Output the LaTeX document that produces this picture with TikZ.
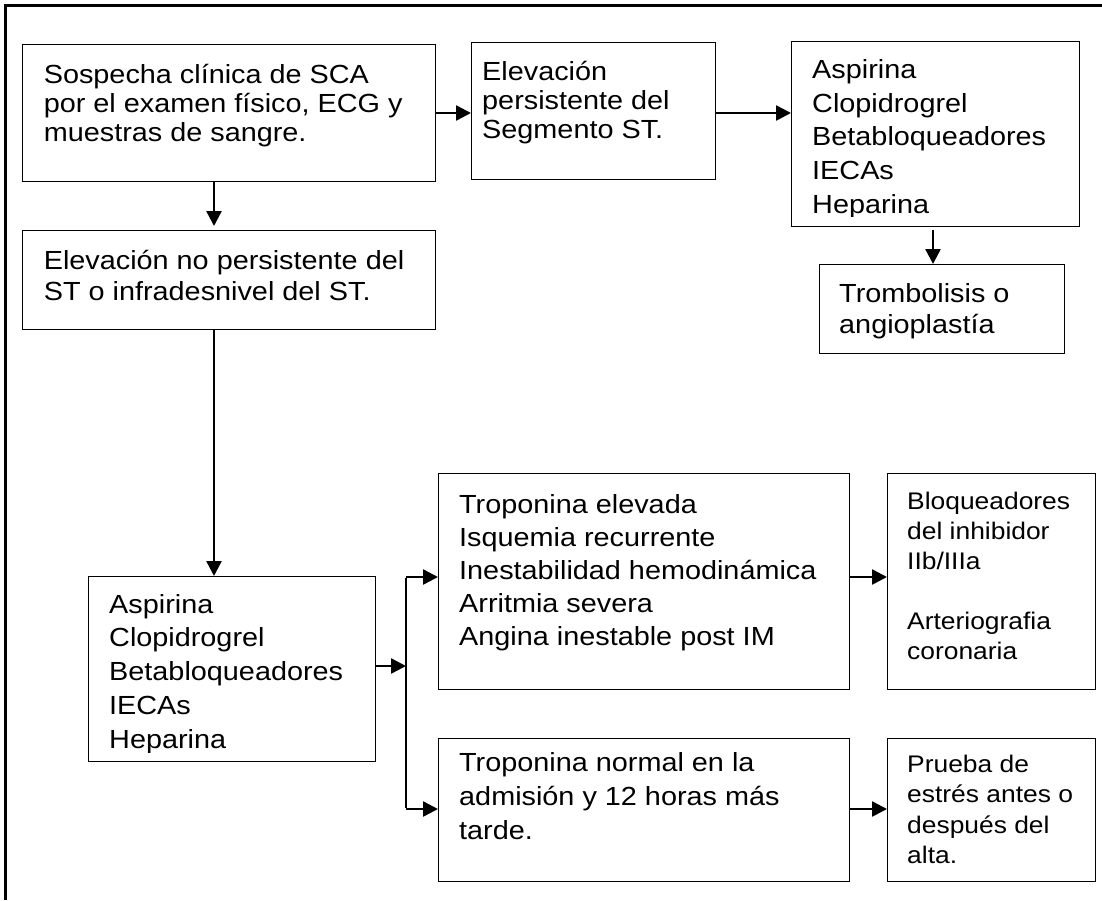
\documentclass[tikz,border=0pt]{standalone}
\usepackage{fontspec}
\setmainfont{Liberation Sans}[FakeStretch=1.1]
\usetikzlibrary{arrows.meta}
\tikzset{
  box/.style={draw=black, line width=1.3pt, rectangle, anchor=north west, inner sep=0pt},
  txt/.style={anchor=north west, inner sep=0pt, align=left},
  arr/.style={line width=2.5pt, -{Triangle[length=15pt,width=15pt]}},
  plain/.style={line width=2.5pt},
  big/.style={font={\fontsize{26.2}{#1}\selectfont}},
  small/.style={font={\fontsize{24}{#1}\selectfont}}
}
\begin{document}
\begin{tikzpicture}[x=1pt,y=-1pt]
\useasboundingbox[fill=white] (0,0) rectangle (1102,900);
% outer frame
\draw[line width=3pt] (5.5,900) -- (5.5,5.5) -- (1102,5.5);
% boxes
\node[box, minimum width=413pt, minimum height=137pt] (A) at (22,44) {};
\node[box, minimum width=244pt, minimum height=137pt] (B) at (471,42) {};
\node[box, minimum width=288pt, minimum height=185pt] (C) at (791,41) {};
\node[box, minimum width=245pt, minimum height=89pt] (D) at (819,264) {};
\node[box, minimum width=413pt, minimum height=99pt] (E) at (22,230) {};
\node[box, minimum width=287pt, minimum height=185pt] (F) at (88,576) {};
\node[box, minimum width=411pt, minimum height=216pt] (G) at (438,473) {};
\node[box, minimum width=411pt, minimum height=143pt] (H) at (438,738) {};
\node[box, minimum width=208pt, minimum height=216pt] (I) at (887,473) {};
\node[box, minimum width=208pt, minimum height=143pt] (J) at (887,738) {};
% texts
\node[txt, big=29.3] (tA) at (43.6,62.5) {\strut Sospecha clínica de SCA\\por el examen físico, ECG y\\muestras de sangre.};
\node[txt, big=29.3] (tB) at (482,59.5) {\strut Elevación\\persistente del\\Segmento ST.};
\begin{scope}
\clip (C.north west) rectangle ([yshift=11pt]C.south east);
\node[txt, big=33.7] (tC) at (812,54.7) {\strut Aspirina\\Clopidrogrel\\Betabloqueadores\\IECAs\\Heparina};
\end{scope}
\node[txt, big=31.5] (tD) at (839,280) {\strut Trombolisis o\\angioplastía};
\node[txt, big=30.7] (tE) at (43.6,247.8) {\strut Elevación no persistente del\\ST o infradesnivel del ST.};
\begin{scope}
\clip (F.north west) rectangle ([yshift=10pt]F.south east);
\node[txt, big=33.8] (tF) at (109,589.3) {\strut Aspirina\\Clopidrogrel\\Betabloqueadores\\IECAs\\Heparina};
\end{scope}
\node[txt, big=33] (tG) at (459,489.9) {\strut Troponina elevada\\Isquemia recurrente\\Inestabilidad hemodinámica\\Arritmia severa\\Angina inestable post IM};
\node[txt, big=34] (tH) at (459,747.2) {\strut Troponina normal en la\\admisión y 12 horas más\\tarde.};
\node[txt, small=30] (tI) at (907,488) {\strut Bloqueadores\\del inhibidor\\IIb/IIIa\\\mbox{}\\Arteriografia\\coronaria};
\node[txt, small=30.5] (tJ) at (907,750.65) {\strut Prueba de\\estrés antes o\\después del\\alta.};
% connectors
\coordinate (ab) at (435,113);
\draw[arr] (ab) -- (ab -| B.west);
\draw[arr] (ab -| B.east) -- (ab -| C.west);
\coordinate (cd) at (933,230);
\draw[arr] (cd) -- (cd |- D.north);
\coordinate (ae) at (214,181);
\draw[arr] (ae) -- ([yshift=4pt]ae |- E.north);
\coordinate (ef) at (214,329);
\draw[arr] (ef) -- (ef |- F.north);
\coordinate (jt) at (406,577);
\coordinate (jb) at (406,809);
\coordinate (fj) at (375,666);
\draw[arr] (fj) -- (fj -| jt);
\draw[plain] ([yshift=-1.25pt]jt) -- ([yshift=1.25pt]jb);
\draw[arr] (jt) -- (jt -| G.west);
\draw[arr] (jb) -- (jb -| H.west);
\coordinate (gi) at (849,577);
\draw[arr] (gi) -- (gi -| I.west);
\coordinate (hj) at (849,809);
\draw[arr] (hj) -- (hj -| J.west);
\end{tikzpicture}
\end{document}
